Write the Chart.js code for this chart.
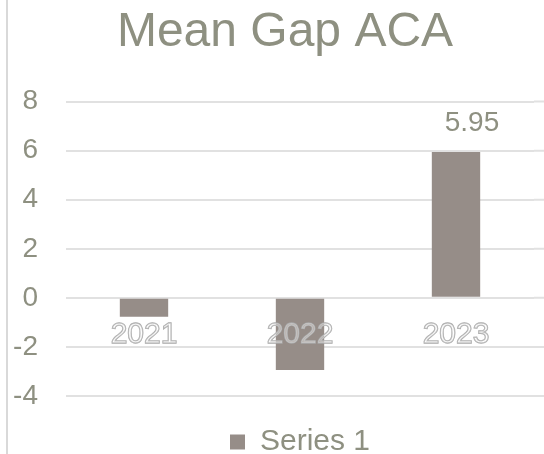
<!DOCTYPE html>
<html>
<head>
<meta charset="utf-8">
<script src="https://cdn.jsdelivr.net/npm/chart.js@4"></script>
<style>
  html, body { margin: 0; padding: 0; background: #fff; }
  #wrap { position: relative; width: 544px; height: 454px; overflow: hidden; }
  #edge { position: absolute; left: 6px; top: 0; width: 2px; height: 454px; background: #d9d9d9; }
</style>
</head>
<body>
<div id="wrap">
  <canvas id="gapChart" width="570" height="454"></canvas>
  <div id="edge"></div>
</div>
<script>
const years = ["2021", "2022", "2023"];
const meanGap = [-0.77, -2.94, 5.95];
const shownLabels = [null, null, "5.95"];
const yTicks = [-4, -2, 0, 2, 4, 6, 8];

const textGrey = "#8e9081";
const barGrey = "#968d88";
const gridGrey = "#e1e1e1";
const fontFam = "'Liberation Sans', Arial, sans-serif";

// alarga las líneas de la rejilla hasta el borde derecho
const gridTail = {
  id: "gridTail",
  beforeDatasetsDraw(chart) {
    const { ctx, chartArea, scales } = chart;
    ctx.save();
    ctx.strokeStyle = gridGrey;
    ctx.lineWidth = 2;
    yTicks.forEach((v) => {
      const y = scales.y.getPixelForValue(v);
      ctx.beginPath();
      ctx.moveTo(chartArea.right, y);
      ctx.lineTo(chart.width, y);
      ctx.stroke();
    });
    ctx.restore();
  },
};

// etiqueta de dato encima de la barra
const barLabels = {
  id: "barLabels",
  afterDatasetsDraw(chart) {
    const { ctx } = chart;
    const meta = chart.getDatasetMeta(0);
    ctx.save();
    ctx.fillStyle = textGrey;
    ctx.font = "28px " + fontFam;
    ctx.textAlign = "center";
    ctx.textBaseline = "middle";
    meta.data.forEach((bar, i) => {
      if (!shownLabels[i]) return;
      ctx.fillText(shownLabels[i], bar.x + 16, bar.y - 29);
    });
    ctx.restore();
  },
};

new Chart(document.getElementById("gapChart").getContext("2d"), {
  type: "bar",
  data: {
    labels: years,
    datasets: [
      {
        label: "Series 1",
        data: meanGap,
        backgroundColor: barGrey,
        borderWidth: 0,
        barPercentage: 0.31,
        categoryPercentage: 1,
      },
    ],
  },
  options: {
    responsive: false,
    animation: false,
    layout: { padding: { left: 0, right: 0, top: 0, bottom: -13 } },
    plugins: {
      title: {
        display: true,
        text: "Mean Gap ACA",
        color: textGrey,
        font: { family: fontFam, size: 48, weight: "normal" },
        padding: { top: 4, bottom: 40 },
      },
      legend: {
        position: "bottom",
        fullSize: false,
        labels: {
          color: textGrey,
          font: { family: fontFam, size: 30 },
          boxWidth: 15,
          boxHeight: 15,
          padding: 31,
        },
      },
      tooltip: { enabled: false },
    },
    scales: {
      x: {
        position: { y: 0 },
        afterFit: (s) => { s.height = 0; },
        grid: { display: false, drawTicks: false },
        border: { display: false },
        ticks: {
          z: 1,
          padding: 19,
          color: "rgba(255,255,255,0.35)",
          textStrokeColor: "#a9a9a9",
          textStrokeWidth: 1.3,
          font: { family: fontFam, size: 30 },
        },
      },
      y: {
        min: -4,
        max: 8,
        afterFit: (s) => { s.width = 66; },
        afterBuildTicks: (s) => { s.ticks = yTicks.map((v) => ({ value: v })); },
        grid: { color: gridGrey, lineWidth: 2, drawTicks: false },
        border: { display: false },
        ticks: {
          padding: 28,
          color: textGrey,
          font: { family: fontFam, size: 28 },
        },
      },
      // eje vacío a la derecha, solo reserva espacio
      yRight: {
        position: "right",
        afterFit: (s) => { s.width = 36; },
        grid: { display: false, drawTicks: false },
        border: { display: false },
        ticks: { display: false },
      },
    },
  },
  plugins: [gridTail, barLabels],
});
</script>
</body>
</html>
